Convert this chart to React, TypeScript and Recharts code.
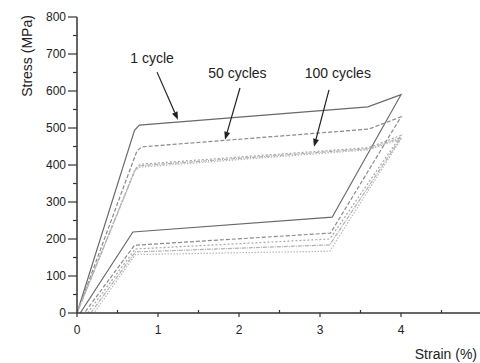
import React from 'react';
import { LineChart, Line, XAxis, YAxis, ReferenceLine, ReferenceDot, Label } from 'recharts';

// Cycle 1 (solid)
const strain1 = [0, 0.71, 0.77, 3.59, 4.0, 3.15, 0.69, 0.04];
const stress1 = [0, 494, 508, 557, 590, 259, 219, 0];
// Cycle 50 (dashed)
const strain50 = [0, 0.74, 0.8, 3.6, 4.0, 3.13, 0.71, 0.09];
const stress50 = [0, 438, 449, 497, 530, 216, 183, 0];
// Cycle 100 group (dotted variants)
const strainC = [0, 0.72, 0.78, 3.6, 4.0, 3.12, 0.72, 0.13];
const stressC = [0, 390, 402, 447, 480, 200, 173, 0];
const strainD = [0, 0.72, 0.78, 3.6, 4.0, 3.12, 0.72, 0.17];
const stressD = [0, 387, 398, 444, 474, 184, 165, 0];
const strainE = [0, 0.71, 0.77, 3.6, 4.0, 3.12, 0.72, 0.21];
const stressE = [0, 384, 394, 441, 470, 167, 158, 0];

const xTicks = [0, 0.5, 1, 1.5, 2, 2.5, 3, 3.5, 4, 4.5, 5];
const xLabels = [0, 1, 2, 3, 4];
const yTicks = [0, 50, 100, 150, 200, 250, 300, 350, 400, 450, 500, 550, 600, 650, 700, 750, 800];
const yLabels = [0, 100, 200, 300, 400, 500, 600, 700, 800];

const annotations = [
  { text: '1 cycle', tx: 0.926, ty: 689, x1: 0.988, y1: 651, x2: 1.247, y2: 522 },
  { text: '50 cycles', tx: 1.98, ty: 649, x1: 2.012, y1: 608, x2: 1.827, y2: 468 },
  { text: '100 cycles', tx: 3.22, ty: 649, x1: 3.111, y1: 603, x2: 2.926, y2: 449 },
];

const toData = (xs: number[], ys: number[]) => xs.map((x, i) => ({ x, y: ys[i] }));

const series = [
  { key: 'c1', data: toData(strain1, stress1), stroke: '#6a6a6a', dash: undefined as string | undefined, w: 1.2 },
  { key: 'c50', data: toData(strain50, stress50), stroke: '#8a8a8a', dash: '4 2', w: 1.2 },
  { key: 'cC', data: toData(strainC, stressC), stroke: '#a8a8a8', dash: '2 2', w: 1.2 },
  { key: 'cD', data: toData(strainD, stressD), stroke: '#b0b0b0', dash: '4 1 1 1', w: 1.2 },
  { key: 'cE', data: toData(strainE, stressE), stroke: '#b8b8b8', dash: '1.5 1.5', w: 1.2 },
];

const FONT = 'Arial, "Liberation Sans", Helvetica, sans-serif';
const AXIS = '#333';

const XTick = (props: any) => {
  const { x, y, payload } = props;
  const v = payload.value;
  const major = Math.abs(v - Math.round(v)) < 1e-6;
  const show = xLabels.includes(v);
  return (
    <g>
      {major ? (
        <line x1={x} x2={x} y1={y} y2={y + 4} stroke={AXIS} strokeWidth={1.2} />
      ) : (
        <line x1={x} x2={x} y1={y} y2={y - 3} stroke={AXIS} strokeWidth={1.2} />
      )}
      {show && (
        <text x={x} y={y + 21} textAnchor="middle" fontSize={12} fill="#222" fontFamily={FONT}>
          {v}
        </text>
      )}
    </g>
  );
};

const YTick = (props: any) => {
  const { x, y, payload } = props;
  const v = payload.value;
  const show = yLabels.includes(v);
  return (
    <g>
      <line x1={x - (show ? 9 : 4)} x2={x} y1={y} y2={y} stroke={AXIS} strokeWidth={1.2} />
      {show && (
        <text x={x - 11} y={y + 4} textAnchor="end" fontSize={12} fill="#222" fontFamily={FONT}>
          {v}
        </text>
      )}
    </g>
  );
};

const XTitle = () => (
  <text x={477} y={359} textAnchor="end" fontSize={14} fill="#222" fontFamily={FONT}>
    Strain (%)
  </text>
);

const YTitle = () => {
  const cx = 27;
  const cy = 56;
  return (
    <text x={cx} y={cy} transform={`rotate(-90 ${cx} ${cy})`} textAnchor="middle" dominantBaseline="central" fontSize={14} fill="#222" fontFamily={FONT}>
      Stress (MPa)
    </text>
  );
};

const Arrow = (props: any) => {
  const { x1, y1, x2, y2 } = props;
  const dx = x2 - x1;
  const dy = y2 - y1;
  const len = Math.sqrt(dx * dx + dy * dy) || 1;
  const ux = dx / len;
  const uy = dy / len;
  const hl = 8;
  const hw = 3;
  const bx = x2 - ux * hl;
  const by = y2 - uy * hl;
  const px = -uy;
  const py = ux;
  return (
    <g>
      <line x1={x1} y1={y1} x2={bx} y2={by} stroke="#222" strokeWidth={1.2} />
      <polygon
        points={`${x2},${y2} ${bx + px * hw},${by + py * hw} ${bx - px * hw},${by - py * hw}`}
        fill="#222"
      />
    </g>
  );
};

export default function App() {
  return (
    <div style={{ position: 'fixed', left: 0, top: 0, width: 480, height: 363, background: '#fff', overflow: 'hidden' }}>
      <LineChart width={482} height={363} margin={{ top: 17, right: 0, left: 0, bottom: 0 }}>
        <XAxis
          type="number"
          dataKey="x"
          domain={[0, 5]}
          ticks={xTicks}
          interval={0}
          tick={<XTick />}
          tickLine={false}
          tickSize={0}
          tickMargin={0}
          axisLine={{ stroke: AXIS, strokeWidth: 1.5 }}
          height={50}
          allowDataOverflow
        >
          <Label content={<XTitle />} />
        </XAxis>
        <YAxis
          type="number"
          dataKey="y"
          domain={[0, 800]}
          ticks={yTicks}
          interval={0}
          tick={<YTick />}
          tickLine={false}
          tickSize={0}
          tickMargin={0}
          axisLine={{ stroke: AXIS, strokeWidth: 1.5 }}
          width={77}
          allowDataOverflow
        >
          <Label content={<YTitle />} />
        </YAxis>
        {series.map((s) => (
          <Line
            key={s.key}
            data={s.data}
            dataKey="y"
            type="linear"
            stroke={s.stroke}
            strokeWidth={s.w}
            strokeDasharray={s.dash}
            dot={false}
            activeDot={false}
            isAnimationActive={false}
          />
        ))}
        {annotations.map((a) => (
          <ReferenceLine
            key={'arr' + a.text}
            segment={[{ x: a.x1, y: a.y1 }, { x: a.x2, y: a.y2 }]}
            shape={<Arrow />}
            ifOverflow="visible"
          />
        ))}
        {annotations.map((a) => (
          <ReferenceDot
            key={'lbl' + a.text}
            x={a.tx}
            y={a.ty}
            r={0}
            ifOverflow="visible"
            shape={(p: any) => (
              <text x={p.cx} y={p.cy} textAnchor="middle" dominantBaseline="central" fontSize={14} fill="#222" fontFamily={FONT}>
                {a.text}
              </text>
            )}
          />
        ))}
      </LineChart>
    </div>
  );
}
